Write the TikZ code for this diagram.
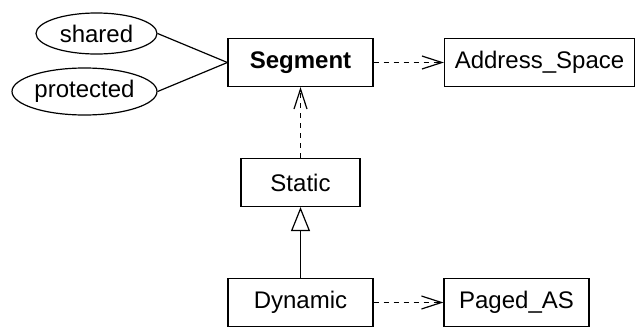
\documentclass[tikz,border=0pt]{standalone}
\usepackage{fontspec}
\setmainfont{Liberation Sans}
\usepackage{tikz}
\usetikzlibrary{arrows.meta,positioning,shapes.geometric}

\begin{document}
\begin{tikzpicture}[
    x=0.5pt, y=-0.5pt,
    every node/.style={font=\fontsize{12}{14}\selectfont},
    cls/.style={draw, line width=0.6pt, rectangle, minimum height=24pt, inner sep=0pt, align=center},
    prop/.style={draw, line width=0.6pt, ellipse, inner sep=0pt},
    link/.style={line width=0.6pt},
    depend/.style={line width=0.6pt, dash pattern=on 2.6pt off 2.4pt, -{Straight Barb[length=10pt, width=6.5pt, line width=0.6pt]}},
    inherit/.style={line width=0.6pt, -{Triangle[open, length=12pt, width=9.5pt, fill=white, line width=0.6pt]}}
]
\useasboundingbox (0,0) rectangle (638,327);

% Class boxes
\node[cls, minimum width=72.5pt] (segment) at (300.5, 62.5) {\textbf{Segment}};
\node[cls, minimum width=95pt] (addr) at (539.5, 62.5) {Address\_Space};
\node[cls, minimum width=59.5pt] (static) at (300.5, 182.5) {Static};
\node[cls, minimum width=72.5pt] (dynamic) at (300.5, 302.5) {Dynamic};
\node[cls, minimum width=72.5pt] (paged) at (516.5, 302.5) {Paged\_AS};

% Properties
\node[prop, minimum width=60.5pt, minimum height=20.5pt] (shared) at (96.5, 33.5) {shared};
\node[prop, minimum width=72.5pt, minimum height=23.5pt] (protected) at (84.5, 91.5) {protected};

% Property links
\draw[link] (shared.east) -- (segment.west);
\draw[link] (protected.east) -- (segment.west);

% Dependencies
\draw[depend] (segment) -- (addr);
\draw[depend] (static) -- (segment);
\draw[depend] (dynamic) -- (paged);

% Generalisation
\draw[inherit] (dynamic) -- (static);

\end{tikzpicture}
\end{document}
